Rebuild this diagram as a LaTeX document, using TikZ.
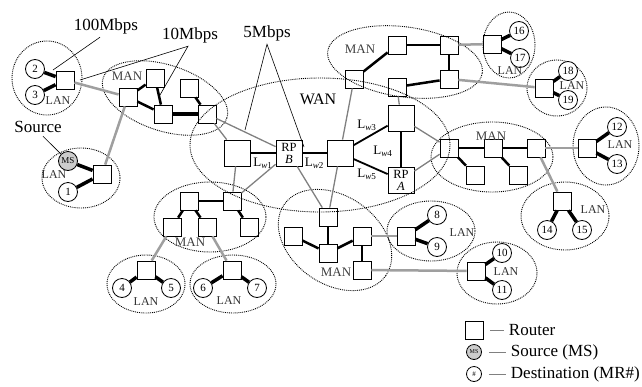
\documentclass[tikz,border=0pt]{standalone}
\usepackage{fontspec}
\setmainfont{Liberation Serif}
\usetikzlibrary{positioning}

\begin{document}
\begin{tikzpicture}[x=1pt,y=-1pt,
  router/.style={draw,line width=0.8pt,minimum size=18pt,inner sep=0pt},
  wanrouter/.style={router,minimum size=26pt,align=center,font=\fontsize{12.5}{12}\selectfont},
  host/.style={circle,draw,line width=0.8pt,fill=white,minimum size=19pt,inner sep=0pt,font=\fontsize{11}{12}\selectfont},
  zone/.style={densely dotted,line width=0.9pt},
  lanlink/.style={line width=3.5pt},
  manlink/.style={line width=2.5pt},
  wanlink/.style={line width=1.8pt},
  uplink/.style={gray!75,line width=2.5pt},
  wanup/.style={gray,line width=1.3pt},
  tag/.style={font=\fontsize{17}{20}\selectfont},
  lanlabel/.style={font=\fontsize{12}{14}\selectfont,black!80},
  manlabel/.style={font=\fontsize{13}{15}\selectfont,black!75},
  lwlabel/.style={font=\fontsize{13}{15}\selectfont},
  pointer/.style={line width=0.6pt},
  legline/.style={gray,line width=1pt,shorten <=7pt,shorten >=1pt}]
\useasboundingbox (0,0) rectangle (642,386);

% dotted areas
\draw[zone] (47,78) ellipse [x radius=35pt,y radius=37pt];
\draw[zone] (81,178) ellipse [x radius=39pt,y radius=30pt];
\draw[zone] (165,98) ellipse [x radius=65pt,y radius=33pt,rotate=-18];
\draw[zone] (405,62) ellipse [x radius=78pt,y radius=35pt,rotate=-8];
\draw[zone] (509,45) ellipse [x radius=26pt,y radius=33pt];
\draw[zone] (557,88) ellipse [x radius=30pt,y radius=28pt];
\draw[zone] (320,145) ellipse [x radius=130pt,y radius=67pt];
\draw[zone] (492,157) ellipse [x radius=61pt,y radius=35pt];
\draw[zone] (606,146) ellipse [x radius=33pt,y radius=39pt];
\draw[zone] (565,216) ellipse [x radius=44pt,y radius=34pt];
\draw[zone] (210,217) ellipse [x radius=56pt,y radius=35pt];
\draw[zone] (146,284) ellipse [x radius=39pt,y radius=29pt];
\draw[zone] (233,284) ellipse [x radius=43pt,y radius=29pt];
\draw[zone] (335,240) ellipse [x radius=62pt,y radius=44pt,rotate=-35];
\draw[zone] (431,231) ellipse [x radius=44pt,y radius=30pt];
\draw[zone] (497,273) ellipse [x radius=40pt,y radius=31pt];

% WAN routers
\node[wanrouter] (w1) at (237,153) {};
\node[wanrouter] (rpb) at (289,153) {RP\\\textit{B}};
\node[wanrouter] (w2) at (340,153) {};
\node[wanrouter] (w3) at (401,118) {};
\node[wanrouter] (rpa) at (401,180) {RP\\\textit{A}};

% MAN routers
\node[router] (ma1) at (128,97) {};
\node[router] (ma2) at (155,78) {};
\node[router] (ma3) at (163,114) {};
\node[router] (ma4) at (189,88) {};
\node[router] (ma5) at (207,114) {};
\node[router] (mb1) at (354,79) {};
\node[router] (mb2) at (397,45) {};
\node[router] (mb3) at (397,87) {};
\node[router] (mb4) at (449,45) {};
\node[router] (mb5) at (449,79) {};
\node[router] (mc1) at (449,148) {};
\node[router] (mc2) at (493,148) {};
\node[router] (mc3) at (536,148) {};
\node[router] (mc4) at (475,175) {};
\node[router] (mc5) at (518,175) {};
\node[router] (md1) at (189,201) {};
\node[router] (md2) at (232,201) {};
\node[router] (md3) at (172,227) {};
\node[router] (md4) at (207,227) {};
\node[router] (md5) at (249,227) {};
\node[router] (me1) at (328,217) {};
\node[router] (me2) at (293,236) {};
\node[router] (me3) at (328,253) {};
\node[router] (me4) at (362,236) {};
\node[router] (me5) at (362,270) {};

% LAN routers
\node[router] (la) at (65,80) {};
\node[router] (lb) at (102,174) {};
\node[router] (lc) at (146,270) {};
\node[router] (ld) at (232,270) {};
\node[router] (le) at (406,236) {};
\node[router] (lf) at (476,271) {};
\node[router] (lg) at (587,148) {};
\node[router] (lh) at (562,201) {};
\node[router] (li) at (492,44) {};
\node[router] (lj) at (544,88) {};

% hosts
\node[host] (h2) at (35,69) {2};
\node[host] (h3) at (35,95) {3};
\node[host,fill=gray!40,font=\fontsize{9}{10}\selectfont] (hms) at (68,161) {MS};
\node[host] (h1) at (68,192) {1};
\node[host] (h4) at (122,288) {4};
\node[host] (h5) at (171,288) {5};
\node[host] (h6) at (203,288) {6};
\node[host] (h7) at (257,288) {7};
\node[host] (h8) at (437,215) {8};
\node[host] (h9) at (437,247) {9};
\node[host] (h10) at (502,253) {10};
\node[host] (h11) at (502,290) {11};
\node[host] (h12) at (617,127) {12};
\node[host] (h13) at (617,164) {13};
\node[host] (h14) at (547,230) {14};
\node[host] (h15) at (582,230) {15};
\node[host] (h16) at (519,31) {16};
\node[host] (h17) at (520,58) {17};
\node[host] (h18) at (568,71) {18};
\node[host] (h19) at (568,100) {19};

% LAN links
\draw[lanlink] (la) -- (h2);
\draw[lanlink] (la) -- (h3);
\draw[lanlink] (lb) -- (hms);
\draw[lanlink] (lb) -- (h1);
\draw[lanlink] (lc) -- (h4);
\draw[lanlink] (lc) -- (h5);
\draw[lanlink] (ld) -- (h6);
\draw[lanlink] (ld) -- (h7);
\draw[lanlink] (le) -- (h8);
\draw[lanlink] (le) -- (h9);
\draw[lanlink] (lf) -- (h10);
\draw[lanlink] (lf) -- (h11);
\draw[lanlink] (lg) -- (h12);
\draw[lanlink] (lg) -- (h13);
\draw[lanlink] (lh) -- (h14);
\draw[lanlink] (lh) -- (h15);
\draw[lanlink] (li) -- (h16);
\draw[lanlink] (li) -- (h17);
\draw[lanlink] (lj) -- (h18);
\draw[lanlink] (lj) -- (h19);

% MAN links
\draw[manlink] (ma1) -- (ma2);
\draw[manlink] (ma1) -- (ma3);
\draw[manlink] (ma2) -- (ma3);
\draw[lanlink] (ma3) -- (ma5);
\draw[manlink] (ma4) -- (ma5);
\draw[manlink] (mb1) -- (mb2);
\draw[manlink] (mb2) -- (mb4);
\draw[manlink] (mb4) -- (mb5);
\draw[manlink] (mb3) -- (mb5);
\draw[manlink] (mc1) -- (mc2);
\draw[manlink] (mc2) -- (mc3);
\draw[manlink] (mc1) -- (mc4);
\draw[manlink] (mc2) -- (mc5);
\draw[manlink] (md1) -- (md2);
\draw[manlink] (md1) -- (md3);
\draw[manlink] (md1) -- (md4);
\draw[manlink] (md2) -- (md5);
\draw[manlink] (me1) -- (me3);
\draw[manlink] (me2) -- (me3);
\draw[manlink] (me3) -- (me4);
\draw[manlink] (me4) -- (me5);

% WAN links
\draw[wanlink] (w1) -- (rpb) node[lwlabel,pos=0.5,below=1pt] {L\textsubscript{\textit{w}1}};
\draw[wanlink] (rpb) -- (w2) node[lwlabel,pos=0.5,below=1pt] {L\textsubscript{\textit{w}2}};
\draw[wanlink] (w2) -- (w3);
\draw[wanlink] (w2) -- (rpa);
\draw[line width=1.2pt] (w3) -- (rpa);
\node[lwlabel] (lw3) at (367,125) {L\textsubscript{\textit{w}3}};
\node[lwlabel] (lw4) at (383,151) {L\textsubscript{\textit{w}4}};
\node[lwlabel] (lw5) at (367,174) {L\textsubscript{\textit{w}5}};

% access links
\draw[uplink] (la) -- (ma1);
\draw[uplink] (lb) -- (ma1);
\draw[uplink] (md3) -- (lc);
\draw[uplink] (md4) -- (ld);
\draw[uplink] (me4) -- (le);
\draw[uplink] (me5) -- (lf);
\draw[uplink] (mc3) -- (lg);
\draw[uplink] (mc3) -- (lh);
\draw[uplink] (mb4) -- (li);
\draw[uplink] (mb5) -- (lj);
\draw[wanup] (ma5) -- (w1);
\draw[wanup] (ma5) -- (rpb);
\draw[wanup] (md2) -- (w1);
\draw[wanup] (md2) -- (rpb);
\draw[wanup] (me1) -- (rpb);
\draw[wanup] (me1) -- (w2);
\draw[wanup] (mb1) -- (w2);
\draw[wanup] (mb3) -- (w3);
\draw[wanup] (mc1) -- (w3);
\draw[wanup] (mc1) -- (rpa);

% area labels
\node[tag,font=\fontsize{16}{18}\selectfont] (wan) at (318,99) {WAN};
\node[manlabel] (man1) at (127,76) {MAN};
\node[manlabel] (man2) at (360,49) {MAN};
\node[manlabel] (man3) at (491,136) {MAN};
\node[manlabel] (man4) at (190,242) {MAN};
\node[manlabel] (man5) at (336,272) {MAN};
\node[lanlabel] (lan1) at (58,101) {LAN};
\node[lanlabel] (lan2) at (54,175) {LAN};
\node[lanlabel] (lan3) at (146,302) {LAN};
\node[lanlabel] (lan4) at (229,301) {LAN};
\node[lanlabel] (lan5) at (462,233) {LAN};
\node[lanlabel] (lan6) at (506,272) {LAN};
\node[lanlabel] (lan7) at (620,145) {LAN};
\node[lanlabel] (lan8) at (593,210) {LAN};
\node[lanlabel] (lan9) at (510,71) {LAN};
\node[lanlabel] (lan10) at (572,86) {LAN};

% bandwidth notes
\node[tag] (bw100) at (106,26) {100Mbps};
\node[tag] (bw10) at (190,35) {10Mbps};
\node[tag] (bw5) at (267,33) {5Mbps};
\node[tag] (src) at (38,127) {Source};
\coordinate (p100) at (53,70);
\coordinate (p10a) at (80,80);
\coordinate (p10b) at (160,95);
\coordinate (p5a) at (245,130);
\coordinate (p5b) at (304,147);
\draw[pointer] (bw100.south) ++(-6pt,0) coordinate (q100) -- (p100);
\draw[pointer] (p10a) -- ([xshift=-2pt]bw10.south) -- (p10b);
\draw[pointer] (p5a) -- (bw5.south) -- (p5b);
\draw[pointer] ([xshift=5pt]src.south) -- (hms);

% legend
\node[router] (lgr) at (474,330) {};
\node[host,fill=gray!40,minimum size=15pt,font=\fontsize{6}{7}\selectfont] (lgs) at (474,352) {MS};
\node[host,minimum size=15pt,font=\fontsize{7}{8}\selectfont] (lgd) at (474,374) {\#};
\node[tag,right=22pt of lgr] (lgrt) {Router};
\node[tag,right=25.5pt of lgs] (lgst) {Source (MS)};
\node[tag,right=25.5pt of lgd] (lgdt) {Destination (MR\#)};
\draw[legline] (lgr) -- (lgrt);
\draw[legline] (lgs) -- (lgst);
\draw[legline] (lgd) -- (lgdt);
\end{tikzpicture}
\end{document}
